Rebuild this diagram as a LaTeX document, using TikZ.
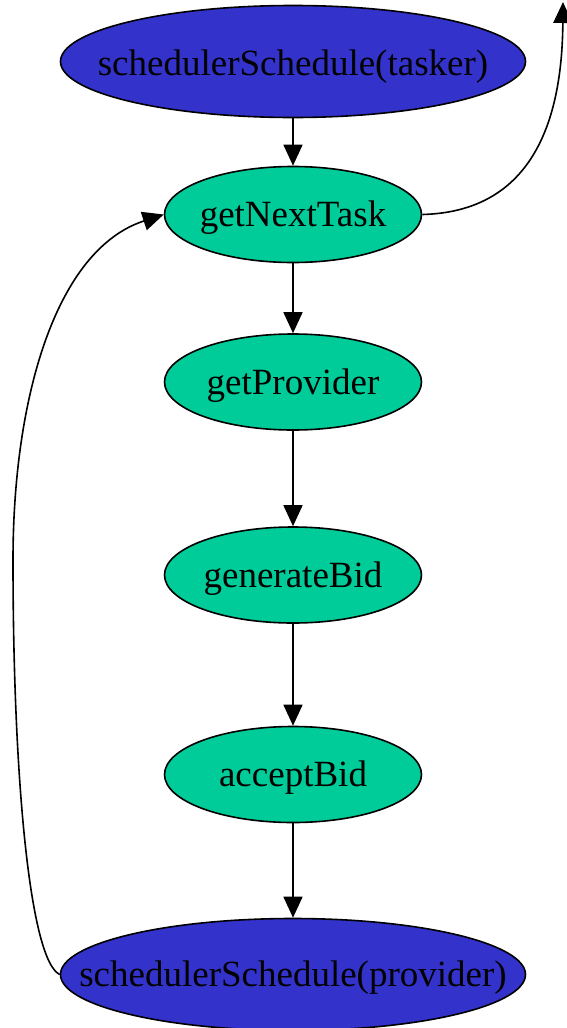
\documentclass[tikz,border=0pt]{standalone}
\usepackage{fontspec}
\setmainfont{Liberation Serif}
\usetikzlibrary{shapes.geometric,arrows.meta}
\definecolor{schedblue}{RGB}{51,51,204}
\definecolor{stepgreen}{RGB}{0,204,153}
\tikzset{
  callnode/.style={ellipse, draw=black, line width=1.6pt, inner sep=0pt,
    font=\fontsize{37}{44}\selectfont},
  schednode/.style={callnode, fill=schedblue, minimum width=465pt, minimum height=112pt},
  stepnode/.style={callnode, fill=stepgreen, minimum width=257pt, minimum height=96pt},
  flow/.style={line width=1.6pt, -{Triangle[length=21pt,width=19pt]}}
}
% label with its baseline set a given distance below the node centre
\newcommand{\lbl}[2][12pt]{\makebox[0pt]{\raisebox{-#1}[0pt][0pt]{#2}}}
\begin{document}
\begin{tikzpicture}[x=1pt,y=-1pt]
  \useasboundingbox (0,0) rectangle (567,1028);
  \node[schednode] (tasker)   at (293,61.5)  {\lbl[14pt]{schedulerSchedule(tasker)}};
  \node[stepnode]  (next)     at (293,214.5) {\lbl{getNextTask}};
  \node[stepnode]  (provider) at (293,382)   {\lbl{getProvider}};
  \node[stepnode]  (bid)      at (293,575)   {\lbl{generateBid}};
  \node[stepnode]  (accept)   at (293,774.5) {\lbl{acceptBid}};
  \node[schednode] (psched)   at (293,974.5) {\lbl{schedulerSchedule(provider)}};
  \coordinate (exit) at (563,2);

  \draw[flow] (tasker) -- (next);
  \draw[flow] (next) -- (provider);
  \draw[flow] (provider) -- (bid);
  \draw[flow] (bid) -- (accept);
  \draw[flow] (accept) -- (psched);
  \draw[flow] (next.east) .. controls (520,212) and (562,140) .. (exit);
  \draw[flow] (psched.west) .. controls (30,960) and (13,780) .. (13,560)
    .. controls (13,400) and (55,250) .. (next.west);
\end{tikzpicture}
\end{document}
